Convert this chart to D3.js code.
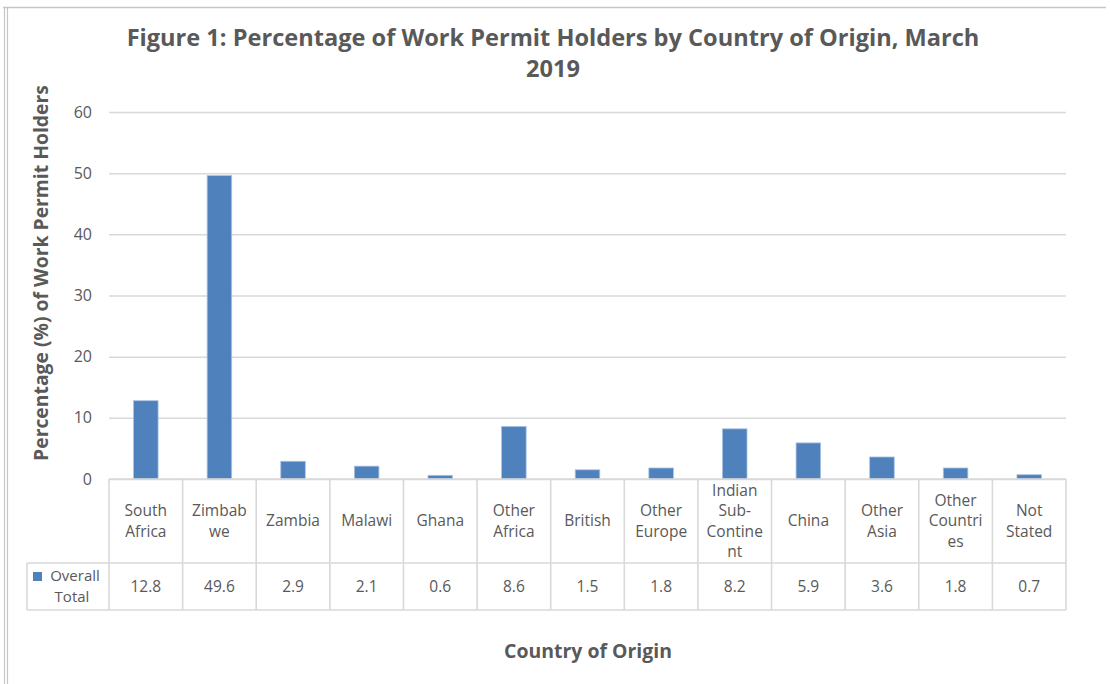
<!DOCTYPE html>
<html>
<head>
<meta charset="utf-8">
<script src="https://cdn.jsdelivr.net/npm/d3@7"></script>
<style>
  body { margin: 0; background: #fff; }
  svg { display: block; }
  text { font-family: "Century Gothic", "Open Sans", "Lato", sans-serif; }
</style>
</head>
<body>
<svg id="chart" width="1110" height="684"></svg>
<script>

// data
var categories = ["South Africa", "Zimbabwe", "Zambia", "Malawi", "Ghana", "Other Africa",
    "British", "Other Europe", "Indian Sub-Continent", "China", "Other Asia", "Other Countries", "Not Stated"];
var categoryLines = [["South", "Africa"], ["Zimbab", "we"], ["Zambia"], ["Malawi"], ["Ghana"],
    ["Other", "Africa"], ["British"], ["Other", "Europe"], ["Indian", "Sub-", "Contine", "nt"],
    ["China"], ["Other", "Asia"], ["Other", "Countri", "es"], ["Not", "Stated"]];
var overallTotal = [12.8, 49.6, 2.9, 2.1, 0.6, 8.6, 1.5, 1.8, 8.2, 5.9, 3.6, 1.8, 0.7];
var yTicks = [0, 10, 20, 30, 40, 50, 60];
var seriesName = ["Overall", "Total"];

var titleLines = ["Figure 1: Percentage of Work Permit Holders by Country of Origin, March", "2019"];
var yTitle = "Percentage (%) of Work Permit Holders";
var xTitle = "Country of Origin";

var svg = d3.select("#chart");

var plot = {left: 109, right: 1066, top: 112, bottom: 479};
var catRowBottom = 563, valRowBottom = 610, legendLeft = 27;
var barColor = "#4f81bd", gridColor = "#d9d9d9", textColor = "#595959";

var x = d3.scaleBand()
    .domain(categories)
    .range([plot.left, plot.right])
    .paddingInner(0)
    .paddingOuter(0);

var y = d3.scaleLinear()
    .domain([0, 60])
    .range([plot.bottom, plot.top]);

// shrink / grow a text to a measured width
function fitWidth(sel, target) {
    var node = sel.node();
    var size = parseFloat(sel.attr("font-size"));
    var w = node.getComputedTextLength();
    if (w > 0) sel.attr("font-size", size * target / w);
}

// outer frame (top and left double rule)
svg.append("line").attr("x1", 3).attr("x2", 1106).attr("y1", 7.5).attr("y2", 7.5)
    .attr("stroke", "#c6c6c6").attr("stroke-width", 1.5);
svg.append("line").attr("x1", 4.5).attr("x2", 4.5).attr("y1", 7).attr("y2", 684)
    .attr("stroke", "#c6c6c6").attr("stroke-width", 1.2);
svg.append("line").attr("x1", 7.5).attr("x2", 7.5).attr("y1", 7).attr("y2", 684)
    .attr("stroke", "#c6c6c6").attr("stroke-width", 1.2);

// title
var title = svg.append("g").attr("class", "title");
title.selectAll("text")
    .data(titleLines)
    .join("text")
      .attr("x", 553)
      .attr("y", (d, i) => 46 + i * 31)
      .attr("text-anchor", "middle")
      .attr("font-size", 22)
      .attr("font-weight", "bold")
      .attr("fill", textColor)
      .text(d => d);
fitWidth(title.select("text"), 853);
var tsize = title.select("text").attr("font-size");
title.selectAll("text").attr("font-size", tsize);

// gridlines + y ticks
var yAxis = d3.axisLeft(y)
    .tickValues(yTicks)
    .tickSize(-(plot.right - plot.left))
    .tickPadding(17);

svg.append("g")
    .attr("transform", `translate(${plot.left},0)`)
    .call(yAxis)
    .call(g => g.select(".domain").remove())
    .call(g => g.selectAll(".tick line").attr("stroke", gridColor).attr("stroke-width", 1.5))
    .call(g => g.selectAll(".tick text")
        .attr("fill", textColor)
        .attr("font-size", 16)
        .style("font-family", "'Century Gothic', 'Open Sans', Lato, sans-serif"));

// bars
svg.append("g")
    .selectAll("rect")
    .data(overallTotal)
    .join("rect")
      .attr("x", (d, i) => x(categories[i]) + x.bandwidth() / 3)
      .attr("width", x.bandwidth() / 3)
      .attr("y", d => y(d))
      .attr("height", d => y(0) - y(d))
      .attr("fill", barColor)
      .attr("stroke", "#a9c1e0")
      .attr("stroke-width", 0.8);

// data table
var table = svg.append("g").attr("class", "table");
var lineStyle = s => s.attr("stroke", gridColor).attr("stroke-width", 1.6).attr("fill", "none");

// horizontal rules
table.append("line").attr("x1", plot.left).attr("x2", plot.right)
    .attr("y1", plot.bottom).attr("y2", plot.bottom).call(lineStyle);
table.append("line").attr("x1", legendLeft).attr("x2", plot.right)
    .attr("y1", catRowBottom).attr("y2", catRowBottom).call(lineStyle);
table.append("line").attr("x1", legendLeft).attr("x2", plot.right)
    .attr("y1", valRowBottom).attr("y2", valRowBottom).call(lineStyle);
table.append("line").attr("x1", legendLeft).attr("x2", legendLeft)
    .attr("y1", catRowBottom).attr("y2", valRowBottom).call(lineStyle);

// vertical rules
table.selectAll("line.col")
    .data(categories.concat(["end"]))
    .join("line")
      .attr("class", "col")
      .attr("x1", (d, i) => i < categories.length ? x(d) : plot.right)
      .attr("x2", (d, i) => i < categories.length ? x(d) : plot.right)
      .attr("y1", plot.bottom)
      .attr("y2", valRowBottom)
      .call(lineStyle);

var catMid = (plot.bottom + catRowBottom) / 2;
var lineH = 20.5;

// category labels
table.selectAll("g.cat")
    .data(categoryLines)
    .join("g")
      .attr("class", "cat")
      .each(function (lines, i) {
          var cx = x(categories[i]) + x.bandwidth() / 2;
          d3.select(this).selectAll("text")
              .data(lines)
              .join("text")
                .attr("x", cx)
                .attr("y", (d, j) => catMid + (j - (lines.length - 1) / 2) * lineH)
                .attr("dy", "0.35em")
                .attr("text-anchor", "middle")
                .attr("font-size", 15.5)
                .attr("fill", textColor)
                .text(d => d);
      });

// values
var valMid = (catRowBottom + valRowBottom) / 2;
table.selectAll("text.val")
    .data(overallTotal)
    .join("text")
      .attr("class", "val")
      .attr("x", (d, i) => x(categories[i]) + x.bandwidth() / 2)
      .attr("y", valMid)
      .attr("dy", "0.35em")
      .attr("text-anchor", "middle")
      .attr("font-size", 15.5)
      .attr("fill", textColor)
      .text(d => d.toFixed(1));

// legend cell
table.append("rect")
    .attr("x", 33).attr("y", 572).attr("width", 9).attr("height", 9)
    .attr("fill", barColor);
table.append("text")
    .attr("x", 75).attr("y", 576).attr("dy", "0.35em")
    .attr("text-anchor", "middle").attr("font-size", 15).attr("fill", textColor)
    .text(seriesName[0]);
table.append("text")
    .attr("x", 72).attr("y", 597).attr("dy", "0.35em")
    .attr("text-anchor", "middle").attr("font-size", 15).attr("fill", textColor)
    .text(seriesName[1]);

// axis titles
var yt = svg.append("text")
    .attr("transform", "translate(48,273) rotate(-90)")
    .attr("text-anchor", "middle")
    .attr("font-size", 18)
    .attr("font-weight", "bold")
    .attr("fill", textColor)
    .text(yTitle);
fitWidth(yt, 376);

var xt = svg.append("text")
    .attr("x", 588)
    .attr("y", 658)
    .attr("text-anchor", "middle")
    .attr("font-size", 18)
    .attr("font-weight", "bold")
    .attr("fill", textColor)
    .text(xTitle);
fitWidth(xt, 168);

</script>
</body>
</html>
